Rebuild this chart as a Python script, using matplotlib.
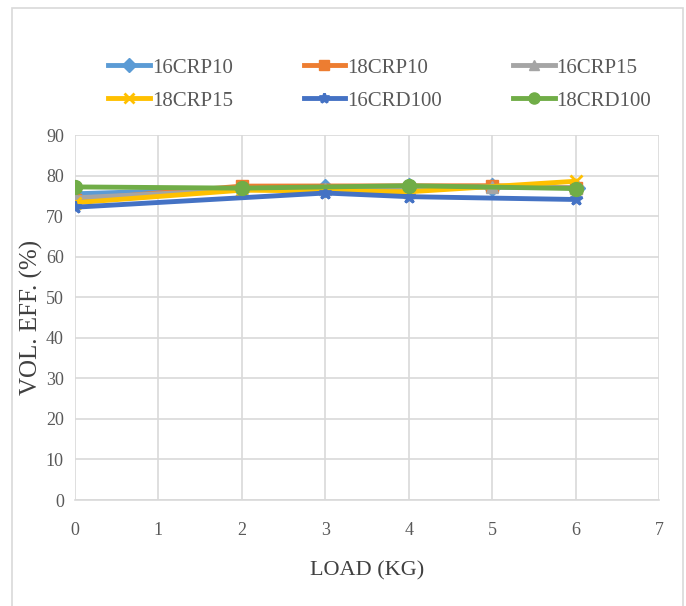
import matplotlib.pyplot as plt
from matplotlib.patches import Rectangle

# values
x_16crp10 = [0, 2, 3, 4, 5, 6]
y_16crp10 = [75.5, 76.8, 77.0, 77.2, 77.2, 77.0]

x_18crp10 = [0, 2, 5, 6]
y_18crp10 = [74.0, 77.4, 77.5, 77.0]

x_16crp15 = [0, 2, 3, 4, 5, 6]
y_16crp15 = [74.5, 76.5, 76.8, 77.0, 77.2, 77.0]

x_18crp15 = [0, 2, 4, 6]
y_18crp15 = [73.3, 76.4, 76.0, 78.6]

x_16crd100 = [0, 3, 4, 6]
y_16crd100 = [72.2, 75.7, 74.8, 74.1]

x_18crd100 = [0, 2, 4, 6]
y_18crd100 = [77.2, 76.9, 77.5, 76.8]

labels = ["16CRP10", "18CRP10", "16CRP15", "18CRP15", "16CRD100", "18CRD100"]
colors = ["#5B9BD5", "#ED7D31", "#A5A5A5", "#FFC000", "#4472C4", "#70AD47"]
markers = ["D", "s", "^", "x", "*", "o"]
xs = [x_16crp10, x_18crp10, x_16crp15, x_18crp15, x_16crd100, x_18crd100]
ys = [y_16crp10, y_18crp10, y_16crp15, y_18crp15, y_16crd100, y_18crd100]

fig = plt.figure(figsize=(6.86, 6.06), dpi=100)
ax = fig.add_axes([0.1093, 0.1749, 0.8513, 0.6023])

# outer chart frame
fig.patches.append(Rectangle((12 / 686, -0.01), 671 / 686, 1 - 8 / 606 + 0.01,
                             transform=fig.transFigure, fill=False,
                             edgecolor="#D9D9D9", linewidth=1.2))

handles = []
for x, y, lab, c, m in zip(xs, ys, labels, colors, markers):
    h, = ax.plot(x, y, color=c, marker=m, markersize=10 if m == "o" else 9,
                 linewidth=3.5,
                 markeredgewidth=2 if m in ("x", "*") else 1, label=lab)
    handles.append(h)

ax.set_xlim(0, 7)
ax.set_ylim(0, 90)
ax.set_xticks(range(0, 8))
ax.set_yticks(range(0, 91, 10))
ax.grid(True, color="#D9D9D9", linewidth=1.2)
ax.set_axisbelow(True)
for s in ["top", "right", "left"]:
    ax.spines[s].set_visible(False)
ax.spines["bottom"].set_color("#D9D9D9")
ax.spines["bottom"].set_linewidth(1.2)
ax.tick_params(axis="x", length=0, labelsize=13, labelcolor="#595959", pad=16)
ax.tick_params(axis="y", length=0, labelsize=13, labelcolor="#595959", pad=8)
for t in ax.get_xticklabels() + ax.get_yticklabels():
    t.set_fontfamily("Liberation Serif")

ax.set_xlabel("LOAD (KG)", fontsize=16, color="#404040",
              family="Liberation Serif", labelpad=16)
ax.set_ylabel("VOL. EFF. (%)", fontsize=18, color="#404040",
              family="Liberation Serif", labelpad=2)

# legend filled row by row like the reference (matplotlib fills by column)
order = [0, 3, 1, 4, 2, 5]
fig.legend([handles[i] for i in order], [labels[i] for i in order],
           loc="upper left", bbox_to_anchor=(108 / 686, 1 - 58 / 606), ncol=3,
           frameon=False, prop={"family": "Liberation Serif", "size": 15},
           labelcolor="#595959", columnspacing=3.4, handlelength=2.0,
           handletextpad=0.1, borderaxespad=0, borderpad=0, labelspacing=0.65,
           markerscale=0.8)

fig.savefig("out.png", dpi=100)
